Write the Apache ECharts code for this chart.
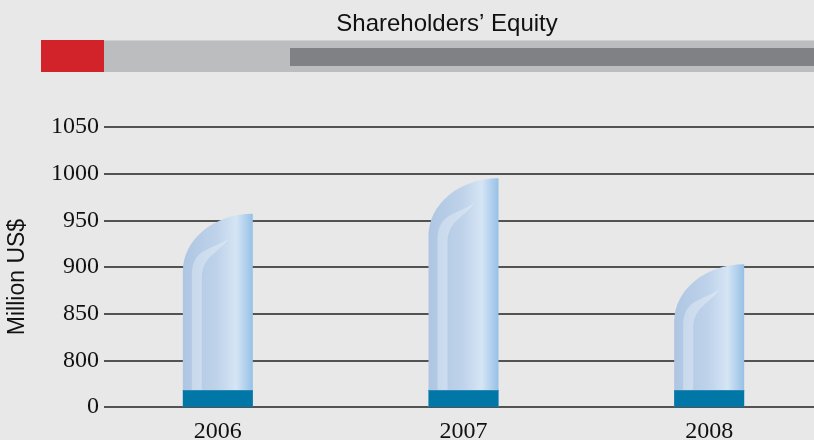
<!DOCTYPE html>
<html>
<head>
<meta charset="utf-8">
<script src="https://cdn.jsdelivr.net/npm/echarts@6/dist/echarts.min.js"></script>
<style>
html, body { margin: 0; padding: 0; background: #e8e8e8; }
#chart { width: 814px; height: 440px; }
</style>
</head>
<body>
<div id="chart"></div>
<script>
// data
var years = ['2006', '2007', '2008'];
var equity = [957, 995, 903];
var yTicks = [750, 800, 850, 900, 950, 1000, 1050]; // 750 drawn as the "0" of the broken axis

var axisFloor = 750;

function renderBar(params, api) {
    var idx = api.value(0);
    var top = api.coord([idx, api.value(1)]);
    var base = api.coord([idx, axisFloor]);
    var w = api.size([1, 0])[0] * 0.285;
    var x0 = top[0] - w / 2;
    var x1 = top[0] + w / 2;
    var ty = top[1];
    var by = base[1];
    var ry = w * 0.82;
    var k = 0.552;
    var bandH = 17;

    var body = 'M' + x0 + ' ' + by +
        ' L' + x0 + ' ' + (ty + ry) +
        ' C' + x0 + ' ' + (ty + ry - k * ry) + ' ' + (x1 - k * w) + ' ' + ty + ' ' + x1 + ' ' + ty +
        ' L' + x1 + ' ' + by + ' Z';

    var hl = 'M' + (x0 + 9) + ' ' + (by - bandH) +
        ' L' + (x0 + 9) + ' ' + (ty + ry + 6) +
        ' C' + (x0 + 9) + ' ' + (ty + ry - 22) + ' ' + (x0 + 24) + ' ' + (ty + 38) + ' ' + (x0 + 46) + ' ' + (ty + 25) +
        ' C' + (x0 + 32) + ' ' + (ty + 42) + ' ' + (x0 + 19) + ' ' + (ty + ry - 14) + ' ' + (x0 + 19) + ' ' + (ty + ry + 8) +
        ' L' + (x0 + 19) + ' ' + (by - bandH) + ' Z';

    return {
        type: 'group',
        children: [{
            type: 'path',
            shape: { pathData: body },
            style: {
                fill: new echarts.graphic.LinearGradient(0, 0, 1, 0, [
                    { offset: 0, color: '#aec6e3' },
                    { offset: 0.5, color: '#bfd3ea' },
                    { offset: 0.76, color: '#d6e5f5' },
                    { offset: 0.8, color: '#cadff2' },
                    { offset: 1, color: '#97c0e7' }
                ])
            }
        }, {
            type: 'path',
            shape: { pathData: hl },
            style: { fill: 'rgba(255,255,255,0.3)' }
        }, {
            type: 'rect',
            shape: { x: x0, y: by - bandH, width: w, height: bandH },
            style: { fill: '#0077a7' }
        }, {
            type: 'rect',
            shape: { x: x0, y: by - bandH, width: w, height: 1 },
            style: { fill: '#2a86b3' }
        }]
    };
}

var myChart = echarts.init(document.getElementById('chart'));

var option = {
    backgroundColor: '#e8e8e8',
    animation: false,
    title: {
        text: 'Shareholders’ Equity',
        left: 442,
        textAlign: 'center',
        top: 7,
        textStyle: {
            fontFamily: 'Liberation Sans',
            fontWeight: 'normal',
            fontSize: 24,
            color: '#111'
        }
    },
    graphic: [
        { type: 'rect', shape: { x: 104, y: 40, width: 710, height: 32 }, style: { fill: '#bcbdbf' }, z: 0 },
        { type: 'rect', shape: { x: 104, y: 40, width: 710, height: 1 }, style: { fill: '#cfd0d1' }, z: 1 },
        { type: 'rect', shape: { x: 41, y: 40, width: 63, height: 32 }, style: { fill: '#d2232a' }, z: 1 },
        { type: 'rect', shape: { x: 290, y: 48, width: 524, height: 18 }, style: { fill: '#808184' }, z: 1 },
        {
            type: 'text',
            x: 18,
            y: 277,
            rotation: Math.PI / 2,
            style: {
                text: 'Million US$',
                font: '23px "Liberation Sans"',
                fill: '#111',
                align: 'center',
                verticalAlign: 'middle'
            }
        }
    ],
    grid: [
        { left: 104, width: 710, top: 127, height: 280, outerBoundsMode: 'none', containLabel: false },
        { left: 95, width: 737, top: 127, height: 280, outerBoundsMode: 'none', containLabel: false }
    ],
    xAxis: [{
        gridIndex: 0,
        type: 'category',
        data: years,
        show: false
    }, {
        gridIndex: 1,
        type: 'category',
        data: years,
        axisLine: { show: false },
        axisTick: { show: false },
        axisLabel: {
            margin: 13,
            fontFamily: 'Liberation Serif',
            fontSize: 24,
            color: '#111'
        }
    }],
    yAxis: [{
        gridIndex: 0,
        type: 'value',
        min: yTicks[0],
        max: yTicks[yTicks.length - 1],
        interval: 50,
        axisLine: { show: false },
        axisTick: { show: false },
        axisLabel: {
            margin: 5,
            fontFamily: 'Liberation Serif',
            fontSize: 24,
            color: '#111',
            formatter: function (v) { return v === axisFloor ? '0' : v; }
        },
        splitLine: { lineStyle: { color: '#222', width: 1.5 } }
    }, {
        gridIndex: 1,
        type: 'value',
        min: yTicks[0],
        max: yTicks[yTicks.length - 1],
        show: false,
        splitLine: { show: false }
    }],
    series: [{
        type: 'custom',
        xAxisIndex: 1,
        yAxisIndex: 1,
        renderItem: renderBar,
        encode: { x: 0, y: 1 },
        data: years.map(function (y, i) { return [i, equity[i]]; }),
        z: 5
    }]
};

myChart.setOption(option);
</script>
</body>
</html>
